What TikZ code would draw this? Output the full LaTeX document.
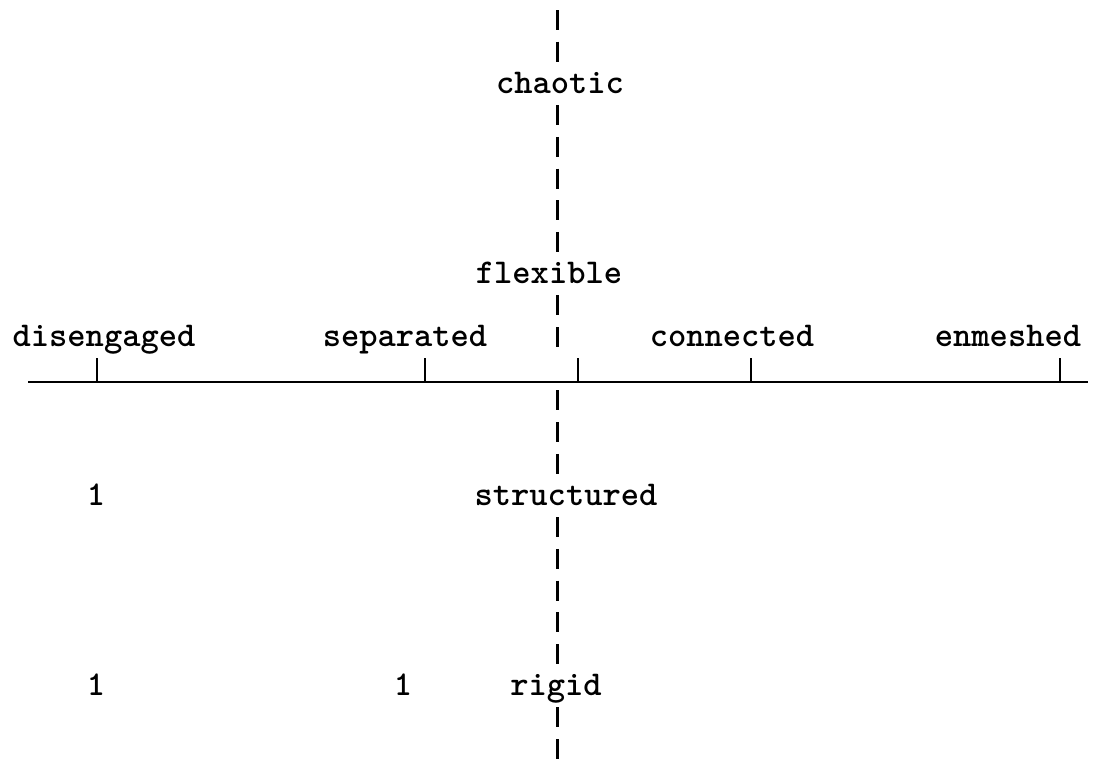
\documentclass[tikz,border=0pt]{standalone}
\begin{document}
\begin{tikzpicture}[x=1pt, y={(0pt,-31.7pt)},
  lbl/.style={font=\fontsize{34.8}{36}\selectfont\ttfamily\bfseries, inner sep=0pt, anchor=base},
  vaxis/.style={line width=3pt, dash pattern=on 20pt off 11.7pt},
  axisline/.style={line width=2.8pt},
  tickmark/.style={line width=2.4pt}]
\useasboundingbox[fill=white] (0,-0.631) rectangle (1100,23.407);

% labels
\node[lbl] (chaotic)    at (560,2.315)  {chaotic};
\node[lbl] (flexible)   at (549,8.315)  {flexible};
\node[lbl] (disengaged) at (104,10.315) {disengaged};
\node[lbl] (separated)  at (405,10.315) {separated};
\node[lbl] (connected)  at (732,10.315) {connected};
\node[lbl] (enmeshed)   at (1008,10.315) {enmeshed};
\node[lbl] (structured) at (566,15.315) {structured};
\node[lbl] (oneA)       at (96,15.315)  {1};
\node[lbl] (rigid)      at (556,21.315) {rigid};
\node[lbl] (oneB)       at (96,21.315)  {1};
\node[lbl] (oneC)       at (403,21.315) {1};

% vertical dashed axis
\coordinate (va1) at (557,-0.3155);  \coordinate (vb1) at (557,1.3155);
\coordinate (va2) at (557,2.6845);   \coordinate (vb2) at (557,7.3155);
\coordinate (va3) at (557,8.6845);   \coordinate (vb3) at (557,10.3155);
\coordinate (va4) at (557,11.6845);  \coordinate (vb4) at (557,14.3155);
\coordinate (va5) at (557,15.6845);  \coordinate (vb5) at (557,20.3155);
\coordinate (va6) at (557,21.6845);  \coordinate (vb6) at (557,23.3155);
\foreach \i in {1,...,6} \draw[vaxis] (va\i) -- (vb\i);

% horizontal axis
\coordinate (hl) at (28,11.42);
\coordinate (hr) at (1088,11.42);
\draw[axisline] (hl) -- (hr);
\foreach \n/\x in {tA/97, tB/425, tC/578, tD/751, tE/1060} {
  \coordinate (\n) at (\x,11.42);
  \draw[tickmark] (\n) -- ++(0,-0.76);
}
\end{tikzpicture}
\end{document}
